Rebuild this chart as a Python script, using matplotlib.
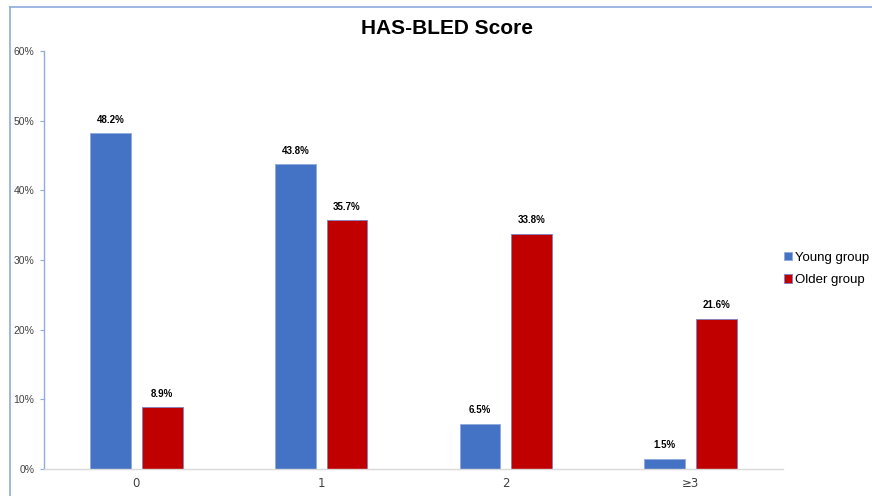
import matplotlib
matplotlib.use("Agg")
import matplotlib.pyplot as plt
from matplotlib.lines import Line2D
import numpy as np

categories = ["0", "1", "2", "≥3"]
young = [48.2, 43.8, 6.5, 1.5]
older = [8.9, 35.7, 33.8, 21.6]
series_names = ["Young group", "Older group"]
yticks = [0, 10, 20, 30, 40, 50, 60]

plt.rcParams['font.family'] = ['Liberation Sans', 'DejaVu Sans']

fig = plt.figure(figsize=(8.72, 4.96), dpi=100)
ax = fig.add_axes([44/872, 1-469/496, (783-44)/872, (469-51)/496])

x = np.arange(len(categories))
w = 0.22
off = 0.14
b1 = ax.bar(x - off, young, w, color="#4472C4", edgecolor="#8FAADC", linewidth=0.6, label=series_names[0])
b2 = ax.bar(x + off, older, w, color="#C00000", edgecolor="#7F7FBF", linewidth=0.6, label=series_names[1])

for bars, vals in ((b1, young), (b2, older)):
    for r, v in zip(bars, vals):
        ax.text(r.get_x() + r.get_width()/2, v + 1.2, f"{v:.1f}%", ha="center", va="bottom",
                fontsize=7, fontweight="bold", color="#000000")

ax.set_xlim(-0.5, 3.5)
ax.set_ylim(0, 60)
ax.set_yticks(yticks)
ax.set_yticklabels([f"{t}%" for t in yticks], fontsize=7.5, color="#404040")
ax.set_xticks(x)
ax.set_xticklabels(categories, fontsize=8.5, color="#404040", family=['DejaVu Sans'])
ax.tick_params(axis="x", length=0, pad=6)
ax.tick_params(axis="y", length=3, width=0.8, color="#8FAADC", pad=4)
for s in ("top", "right"):
    ax.spines[s].set_visible(False)
ax.spines["left"].set_color("#8FAADC")
ax.spines["left"].set_linewidth(1.0)
ax.spines["bottom"].set_color("#D9D9D9")
ax.spines["bottom"].set_linewidth(1.0)

fig.text(447/872, 1-28/496, "HAS-BLED Score", ha="center", va="center", fontsize=15, fontweight="bold")

# figure border (partial, as in reference crop)
fig.add_artist(Line2D([10/872, 1.0], [1-7/496, 1-7/496], transform=fig.transFigure, color="#8FAADC", linewidth=1.2))
fig.add_artist(Line2D([10/872, 10/872], [0, 1-7/496], transform=fig.transFigure, color="#8FAADC", linewidth=1.2))

leg = fig.legend(handles=[b1, b2], labels=series_names, loc="center left",
                 bbox_to_anchor=(772/872, 1-269/496), frameon=False, fontsize=9.5,
                 handlelength=0.6, handleheight=0.6, handletextpad=0.25, labelspacing=0.8)

fig.savefig("out.png", dpi=100)
